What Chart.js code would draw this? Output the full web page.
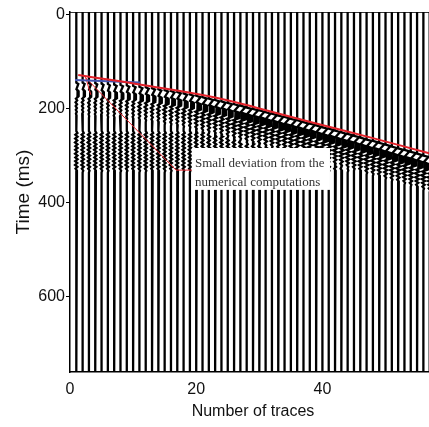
<!DOCTYPE html>
<html>
<head>
<meta charset="utf-8">
<script src="https://cdn.jsdelivr.net/npm/chart.js@4.4.1/dist/chart.umd.min.js"></script>
<style>
  html, body { margin: 0; padding: 0; overflow: hidden; background: #fff; }
  #traces { display: block; }
</style>
</head>
<body>
<canvas id="traces" width="450" height="427" style="width:450px;height:427px"></canvas>
<script>
// trace numbers along the receiver line
const traceNumbers = [
  1, 2, 3, 4, 5, 6, 7, 8, 9, 10, 11, 12, 13, 14, 15, 16, 17, 18, 19, 20,
  21, 22, 23, 24, 25, 26, 27, 28, 29, 30, 31, 32, 33, 34, 35, 36, 37, 38, 39, 40,
  41, 42, 43, 44, 45, 46, 47, 48, 49, 50, 51, 52, 53, 54, 55, 56, 57, 58,
];
// first-break time of each trace (ms)
const arrivalTimes = [
  145, 145, 146, 146, 147, 148, 149, 150, 151, 152, 154, 155, 157, 159, 161, 163, 165, 168, 170, 173,
  176, 179, 182, 185, 188, 191, 194, 198, 201, 204, 208, 211, 215, 218, 222, 225, 229, 232, 236, 240,
  243, 247, 251, 254, 258, 262, 266, 269, 273, 277, 281, 285, 288, 292, 296, 300, 304, 308,
];
// display gain of each trace
const traceGains = [
  0.4, 0.4, 0.4, 0.4, 0.4, 0.4, 0.5, 0.5, 0.5, 0.5, 0.6, 0.6, 0.6, 0.6, 0.7, 0.7, 0.7, 0.7, 0.7, 0.85,
  0.85, 0.85, 0.85, 0.85, 0.85, 1, 1, 1, 1, 1, 1, 1, 1, 1, 1, 1, 1, 1, 1, 1,
  1, 1, 1, 1, 1, 1, 1, 1, 1, 1, 1, 1, 1, 1, 1, 1, 1, 1,
];
// direct wave wavelet: time after first break (ms) and amplitude (trace spacings)
const waveletOffsets = [0, 3, 14, 18, 29, 34, 38, 42, 46, 50, 54, 58, 62, 66, 70, 74];
const waveletAmps = [0, 0.8, 0.05, 0.85, 0.9, -0.15, 0.35, -0.3, 0.3, -0.25, 0.25, -0.2, 0.2, -0.15, 0.1, 0];
const lobeFirst = 2, lobeLast = 5;
// later arrivals (ms) and their amplitude
const codaTimes = [248, 252, 256, 260, 264, 268, 272, 276, 280, 284, 288, 292, 296, 300, 304, 308, 312, 316, 320, 324, 328, 332, 336];
const codaAmps = [0, 0.18, -0.15, 0.2, -0.18, 0.15, -0.2, 0.18, -0.15, 0.2, -0.18, 0.15, -0.2, 0.18, -0.15, 0.2, -0.18, 0.15, -0.2, 0.18, -0.12, 0.1, 0];
// computed travel-time curve
const curveTraces = [1.3, 12, 22.8, 30, 38.7, 48, 56.9, 60];
const curveTimes = [129, 151, 176, 200, 231, 263, 295, 306];
// picked near-offset arrivals
const pickTraces = [0.8, 11.1];
const pickTimes = [139.5, 145];
// annotation leaders
const leaderTraces = [2.2, 16.8, 19.5];
const leaderTimes = [131, 331, 331];
const leader2Traces = [2.5, 3.3];
const leader2Times = [135, 171];

const xTicks = [0, 20, 40];
const yTicks = [0, 200, 400, 600];
const timeMin = -5, timeMax = 760;

const noteLines = ['Small deviation from the', 'numerical computations'];
const noteTextTrace = 19.8;
const noteTextTimes = [324, 365];
const noteBoxTraces = [19.3, 41.2];
const noteBoxTimes = [284, 373];

const datasets = [];

datasets.push({
  data: curveTraces.map((t, i) => ({ x: t, y: curveTimes[i] })),
  borderColor: '#e3222a', borderWidth: 2, tension: 0.4, order: 0,
});
datasets.push({
  data: pickTraces.map((t, i) => ({ x: t, y: pickTimes[i] })),
  borderColor: '#4455b0', borderWidth: 2, order: 0,
});
datasets.push({
  data: leaderTraces.map((t, i) => ({ x: t, y: leaderTimes[i] })),
  borderColor: '#e3222a', borderWidth: 1, order: 0,
});
datasets.push({
  data: leader2Traces.map((t, i) => ({ x: t, y: leader2Times[i] })),
  borderColor: '#e3222a', borderWidth: 1, order: 0,
});

traceNumbers.forEach((k, i) => {
  const arr = arrivalTimes[i];
  const g = traceGains[i];
  const end = arr + waveletOffsets[waveletOffsets.length - 1];
  const pts = [{ x: k, y: timeMin }];
  waveletOffsets.forEach((o, j) => pts.push({ x: k + g * waveletAmps[j], y: arr + o }));
  codaTimes.forEach((t, j) => { if (t > end) pts.push({ x: k + codaAmps[j], y: t }); });
  pts.push({ x: k, y: timeMax });
  datasets.push({ data: pts, borderColor: '#000', borderWidth: 2.3, order: 2 });

  // shaded positive lobe
  const lobe = [];
  for (let j = lobeFirst; j <= lobeLast; j++) {
    lobe.push({ x: k + g * Math.max(0, waveletAmps[j]), y: arr + waveletOffsets[j] });
  }
  datasets.push({ data: lobe, borderColor: '#000', borderWidth: 1, backgroundColor: '#000', fill: 'shape', order: 1 });
});

const noteBox = {
  id: 'noteBox',
  afterDatasetsDraw(chart) {
    const { ctx, scales: { x, y } } = chart;
    const x0 = x.getPixelForValue(noteBoxTraces[0]);
    const x1 = x.getPixelForValue(noteBoxTraces[1]);
    const y0 = y.getPixelForValue(noteBoxTimes[0]);
    const y1 = y.getPixelForValue(noteBoxTimes[1]);
    ctx.save();
    ctx.fillStyle = '#fff';
    ctx.fillRect(x0, y0, x1 - x0, y1 - y0);
    ctx.fillStyle = '#333';
    ctx.font = '13px "Liberation Serif", "DejaVu Serif", serif';
    ctx.textBaseline = 'alphabetic';
    const tx = x.getPixelForValue(noteTextTrace);
    noteLines.forEach((line, i) => ctx.fillText(line, tx, y.getPixelForValue(noteTextTimes[i])));
    ctx.restore();
  },
};

const sans = '"Liberation Sans", Arial, sans-serif';

new Chart(document.getElementById('traces'), {
  type: 'scatter',
  data: { datasets },
  options: {
    responsive: false,
    animation: false,
    showLine: true,
    layout: { padding: { left: 0, top: 12, right: 14, bottom: 0 } },
    elements: { point: { radius: 0 }, line: { tension: 0 } },
    plugins: { legend: { display: false }, tooltip: { enabled: false } },
    scales: {
      x: {
        type: 'linear', position: 'bottom', min: 0, max: 58,
        grid: { display: false, drawTicks: false },
        border: { color: '#000', width: 1.5 },
        afterBuildTicks: (s) => { s.ticks = xTicks.map((v) => ({ value: v })); },
        ticks: { padding: 8, color: '#111', font: { family: sans, size: 16 } },
        title: {
          display: true, text: 'Number of traces', color: '#111',
          font: { family: sans, size: 16 }, padding: { top: 0, bottom: 6 },
        },
        afterFit: (s) => { s.height = 55; },
      },
      xTop: {
        type: 'linear', position: 'top', min: 0, max: 58,
        grid: { display: false, drawTicks: false },
        ticks: { display: false },
        border: { color: '#333', width: 1 },
        afterFit: (s) => { s.height = 0; },
      },
      y: {
        type: 'linear', reverse: true, min: timeMin, max: timeMax,
        grid: { drawOnChartArea: false, drawTicks: true, tickLength: 4, color: '#000' },
        border: { color: '#000', width: 1.5 },
        afterBuildTicks: (s) => { s.ticks = yTicks.map((v) => ({ value: v })); },
        ticks: { padding: 1, color: '#111', font: { family: sans, size: 16 } },
        title: {
          display: true, text: 'Time (ms)', color: '#111',
          font: { family: sans, size: 19 }, padding: { top: 12, bottom: 0 },
        },
        afterFit: (s) => { s.width = 70; },
      },
    },
  },
  plugins: [noteBox],
});
</script>
</body>
</html>
